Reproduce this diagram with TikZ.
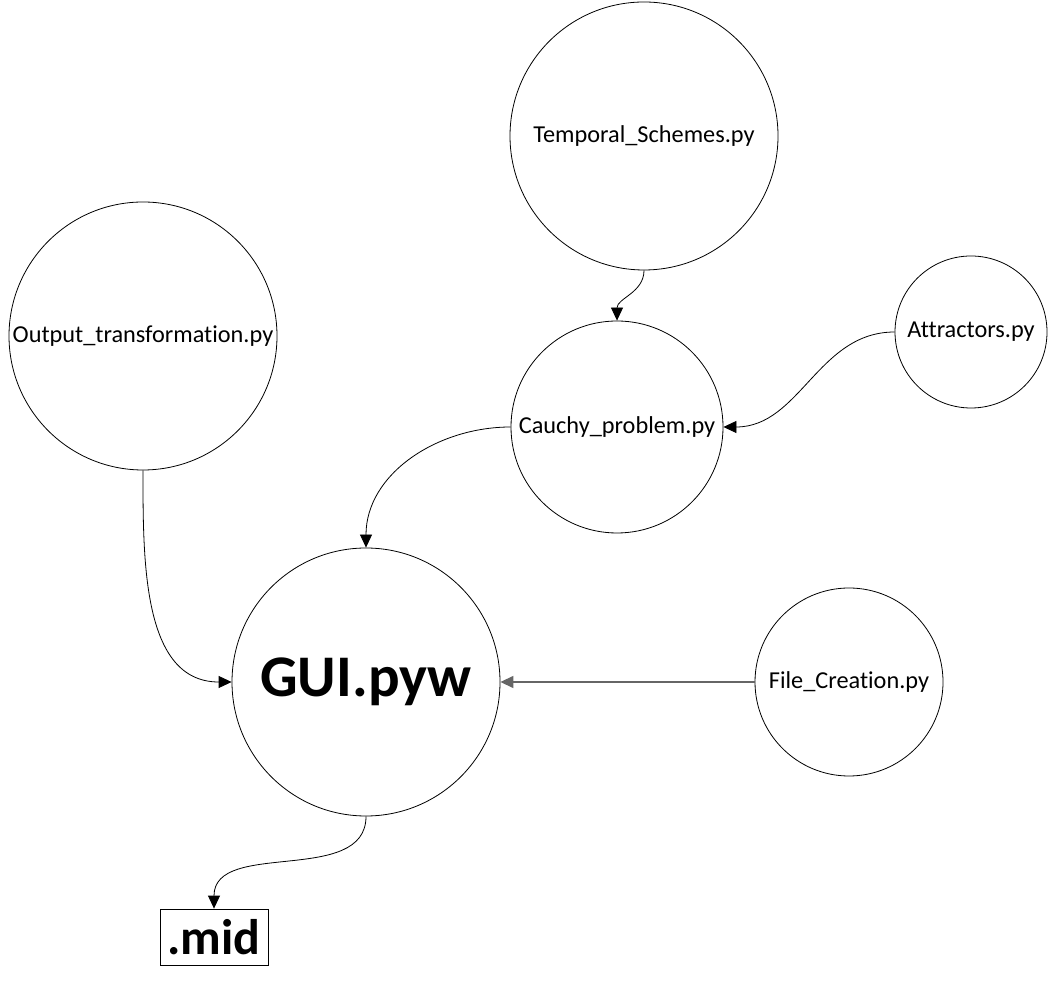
\documentclass[tikz,border=0pt]{standalone}
\usepackage{fontspec}
\setmainfont[Ligatures={NoCommon}]{Carlito}
\usetikzlibrary{arrows.meta}
\begin{document}
\begin{tikzpicture}[x=1pt,y=1pt,
  module/.style={draw=black,line width=0.8pt,circle,inner sep=0pt,font=\fontsize{24.3}{28}\selectfont},
  link/.style={draw=black,line width=0.8pt,-{Triangle[length=13pt,width=12pt]}},
]
\useasboundingbox (0,0) rectangle (1048,990);
% modules (y measured upward from the bottom edge)
\node[module,minimum size=268pt] (temp) at (644,854) {Temporal\_Schemes.py};
\node[module,minimum size=268pt] (out) at (143,654) {Output\_transformation.py};
\node[module,minimum size=152pt] (attr) at (971,658) {Attractors.py};
\node[module,minimum size=212pt] (cauchy) at (617,563) {Cauchy\_problem.py};
\node[module,minimum size=268pt,font=\fontsize{59}{64}\selectfont\bfseries] (gui) at (366,308) {GUI.pyw};
\node[module,minimum size=188pt] (file) at (849,308) {File\_Creation.py};
\node[draw=black,line width=0.8pt,minimum width=108pt,minimum height=56pt,inner sep=0pt,
      font=\fontsize{50}{54}\selectfont\bfseries] (mid) at (214,53) {.mid};
% dependencies
\draw[link] (temp.south) to[out=-90,in=90] (cauchy.north);
\draw[link] (attr.west) to[out=180,in=0] (cauchy.east);
\draw[link] (cauchy.west) to[out=180,in=90] (gui.north);
\draw[link] (out.south) to[out=-90,in=180] (gui.west);
\draw[link,draw=black!60,line width=1.3pt] (file.west) -- (gui.east);
\draw[link] (gui.south) to[out=-90,in=90] (mid.north);
\end{tikzpicture}
\end{document}
